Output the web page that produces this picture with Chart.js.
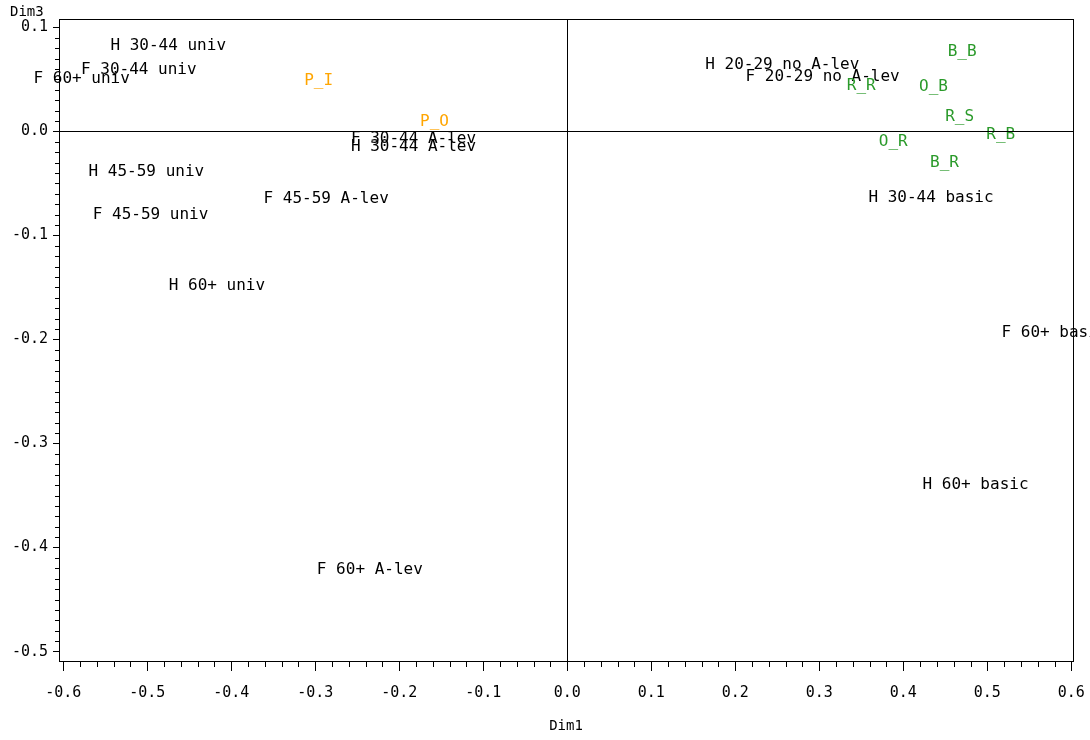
<!DOCTYPE html>
<html lang="en">
<head>
  <meta charset="UTF-8" />
  <title>Dim1 x Dim3</title>
  <style>
    html, body { margin: 0; padding: 0; background: #fff; }
    #wrap { width: 1090px; height: 740px; }
  </style>
</head>
<body>
  <div id="wrap"><canvas id="plot" width="1090" height="740"></canvas></div>

  <script src="https://cdn.jsdelivr.net/npm/chart.js"></script>
  <script>
    // points of the map (label centre = point position)
    const labels = [
      'H 30-44 univ', 'F 30-44 univ', 'F 60+ univ', 'P_I', 'P_O',
      'F 30-44 A-lev', 'H 30-44 A-lev', 'H 45-59 univ', 'F 45-59 univ', 'F 45-59 A-lev',
      'H 60+ univ', 'F 60+ A-lev', 'H 20-29 no A-lev', 'F 20-29 no A-lev', 'R_R',
      'B_B', 'O_B', 'R_S', 'R_B', 'O_R',
      'B_R', 'H 30-44 basic', 'F 60+ basic', 'H 60+ basic'
    ];
    const dim1 = [
      -0.475, -0.510, -0.578, -0.296, -0.158,
      -0.183, -0.183, -0.501, -0.496, -0.287,
      -0.417, -0.235, 0.256, 0.304, 0.350,
      0.470, 0.436, 0.467, 0.516, 0.388,
      0.449, 0.433, 0.580, 0.486
    ];
    const dim3 = [
      0.0825, 0.0595, 0.0509, 0.049, 0.0096,
      -0.0067, -0.0144, -0.0393, -0.0806, -0.0653,
      -0.1488, -0.4213, 0.0643, 0.0528, 0.0441,
      0.0768, 0.0432, 0.0144, -0.0038, -0.0096,
      -0.0307, -0.0643, -0.1939, -0.3397
    ];
    const groups = [
      'row', 'row', 'row', 'supp', 'supp',
      'row', 'row', 'row', 'row', 'row',
      'row', 'row', 'row', 'row', 'col',
      'col', 'col', 'col', 'col', 'col',
      'col', 'row', 'row', 'row'
    ];
    const groupNames = ['row', 'supp', 'col'];
    const groupColors = { row: '#000000', supp: '#ffa500', col: '#2a9a2a' };

    const xTicks = [-0.6, -0.5, -0.4, -0.3, -0.2, -0.1, 0.0, 0.1, 0.2, 0.3, 0.4, 0.5, 0.6];
    const yTicks = [-0.5, -0.4, -0.3, -0.2, -0.1, 0.0, 0.1];

    const FONT = '"DejaVu Sans Mono", monospace';

    const datasets = groupNames.map(g => ({
      label: g,
      data: labels.map((t, i) => ({ x: dim1[i], y: dim3[i], t: t, g: groups[i] }))
                  .filter(p => p.g === g),
      pointRadius: 0,
      pointHoverRadius: 0,
      textColor: groupColors[g]
    }));

    // frame, zero lines, minor ticks, Dim3 caption
    const framePlugin = {
      id: 'frame',
      afterDraw(chart) {
        const ctx = chart.ctx;
        const a = chart.chartArea;
        const xs = chart.scales.x, ys = chart.scales.y;
        ctx.save();
        ctx.strokeStyle = '#000';
        ctx.lineWidth = 1;
        ctx.strokeRect(Math.round(a.left) + 0.5, Math.round(a.top) + 0.5,
                       Math.round(a.right - a.left), Math.round(a.bottom - a.top));

        const x0 = Math.round(xs.getPixelForValue(0)) + 0.5;
        const y0 = Math.round(ys.getPixelForValue(0)) + 0.5;
        ctx.beginPath();
        ctx.moveTo(x0, a.top); ctx.lineTo(x0, a.bottom);
        ctx.moveTo(a.left, y0); ctx.lineTo(a.right, y0);

        for (let i = -60; i <= 60; i += 2) {
          if (i % 10 === 0) continue;
          const px = Math.round(xs.getPixelForValue(i / 100)) + 0.5;
          ctx.moveTo(px, a.bottom); ctx.lineTo(px, a.bottom + 6);
        }
        for (let j = -50; j <= 10; j++) {
          if (j % 10 === 0) continue;
          const py = Math.round(ys.getPixelForValue(j / 100)) + 0.5;
          ctx.moveTo(a.left, py); ctx.lineTo(a.left - 4, py);
        }
        ctx.stroke();

        ctx.fillStyle = '#000';
        ctx.font = '14px ' + FONT;
        ctx.textAlign = 'left';
        ctx.textBaseline = 'middle';
        ctx.fillText('Dim3', 10, 12);
        ctx.restore();
      }
    };

    // text labels instead of markers
    const labelPlugin = {
      id: 'pointText',
      afterDatasetsDraw(chart) {
        const ctx = chart.ctx;
        ctx.save();
        ctx.font = '16px ' + FONT;
        ctx.textAlign = 'center';
        ctx.textBaseline = 'middle';
        chart.data.datasets.forEach((ds, di) => {
          const meta = chart.getDatasetMeta(di);
          ctx.fillStyle = ds.textColor;
          meta.data.forEach((el, i) => {
            ctx.fillText(ds.data[i].t, el.x, el.y);
          });
        });
        ctx.restore();
      }
    };

    new Chart(document.getElementById('plot').getContext('2d'), {
      type: 'scatter',
      data: { datasets },
      plugins: [labelPlugin, framePlugin],
      options: {
        responsive: false,
        animation: false,
        events: [],
        layout: { padding: { left: 0, right: 17, top: 19, bottom: 0 } },
        plugins: {
          legend: { display: false },
          tooltip: { enabled: false },
          title: { display: false }
        },
        scales: {
          x: {
            type: 'linear',
            min: -0.605,
            max: 0.602,
            afterBuildTicks: s => { s.ticks = xTicks.map(v => ({ value: v })); },
            afterFit: s => { s.height = 79; s.paddingLeft = 0; s.paddingRight = 0; },
            ticks: {
              color: '#000',
              font: { family: FONT, size: 15 },
              padding: 13,
              maxRotation: 0,
              autoSkip: false,
              callback: v => v.toFixed(1)
            },
            grid: { drawOnChartArea: false, drawTicks: true, tickLength: 10, tickColor: '#000' },
            border: { display: true, color: '#000', width: 1 },
            title: {
              display: true,
              text: 'Dim1',
              color: '#000',
              font: { family: FONT, size: 14 },
              padding: { top: 4, bottom: 5 }
            }
          },
          y: {
            type: 'linear',
            min: -0.509,
            max: 0.108,
            afterBuildTicks: s => { s.ticks = yTicks.map(v => ({ value: v })); },
            afterFit: s => { s.width = 59; },
            ticks: {
              color: '#000',
              font: { family: FONT, size: 15 },
              padding: 5,
              autoSkip: false,
              callback: v => v.toFixed(1)
            },
            grid: { drawOnChartArea: false, drawTicks: true, tickLength: 6, tickColor: '#000' },
            border: { display: true, color: '#000', width: 1 }
          }
        }
      }
    });
  </script>
</body>
</html>
